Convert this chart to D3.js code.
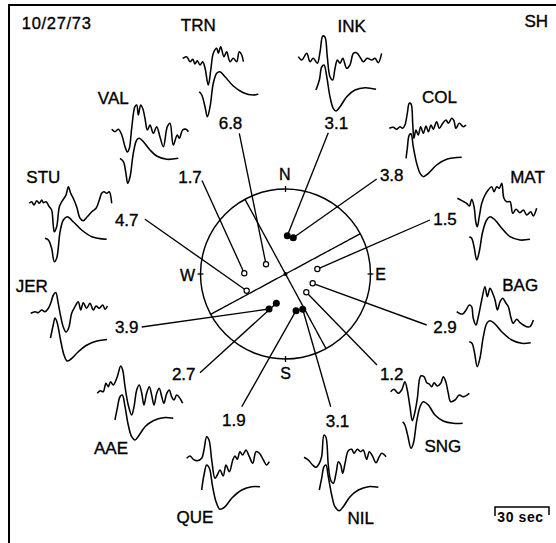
<!DOCTYPE html>
<html><head><meta charset="utf-8">
<script src="https://cdn.jsdelivr.net/npm/d3@7"></script>
<style>html,body{margin:0;padding:0;background:#fff;}svg{display:block;}</style>
</head><body>
<svg id="chart" width="556" height="543"></svg>
<script>
// ---------------- DATA ----------------
const stationNames = ["TRN","INK","COL","MAT","BAG","SNG","NIL","QUE","AAE","JER","STU","VAL"];
const ratioLabels  = ["6.8","3.1","3.8","1.5","2.9","1.2","3.1","1.9","2.7","3.9","4.7","1.7"];
const polarity     = ["open","filled","filled","open","open","open","filled","filled","filled","filled","open","open"];
// first-motion points on the focal sphere: azimuth (deg) and projected radius (fraction of sphere)
const pointAzimuth = [296.4, 2.7, 12.1, 81.1, 108.9, 131.3, 154, 164, 197.4, 205.2, 246.7, 271];
const pointRadius  = [0.256, 0.451, 0.437, 0.379, 0.338, 0.326, 0.462, 0.449, 0.361, 0.455, 0.497, 0.485];
// nodal planes
const nodalStrike = [331.5, 61.7];
const nodalDip    = [90, 90];
const cardinals = ["N","E","S","W"];
const cardinalAz = [0, 90, 180, 270];
const dateLabel = "10/27/73";
const phaseLabel = "SH";
const scaleSeconds = 30;
const scaleLabel = "30 sec";

// waveforms: [time (s), amplitude]; obs = observed, syn = synthetic
const obsTRN = [[0,1.7],[2.2,3.3],[4.1,-1.7],[5.6,0.7],[6.8,-4],[8.1,-0.7],[9.6,-5],[11.1,-1.7],[12.4,-8],[14.2,-25],[15.6,-10],[17,6.7],[18.9,11.7],[19.8,6.7],[21.1,13.3],[22.9,3.3],[24.4,8.3],[26.3,-1.7],[28.1,1.7],[30,-1.7],[31.4,8.3],[32.8,5],[33.7,-1.7]];
const synTRN = [[9.2,0.3],[10.6,-3],[12.4,-14.7],[13.7,-24.7],[15.2,-14.7],[17,8.7],[18.9,18.7],[20.7,20.3],[23.5,15.3],[28.1,6],[33.7,-0.7],[39.2,-3],[42,-2]];
const obsINK = [[0,0.3],[1.9,-3],[4.7,3.7],[6.5,-4.7],[8.3,-1.3],[10.6,-6.3],[12.1,5.3],[13.6,21],[14.8,20],[16.1,0.3],[17.6,-19.7],[19.1,-23],[20.4,-11.3],[21.7,-3],[23.2,-6.3],[24.7,-1.3],[26.9,-11.3],[28.7,-8],[30.6,3.7],[32.4,4.3],[34.7,-1.3],[36.1,-4.7],[38.3,-1.3],[40.8,-3],[42.6,-1.3],[44.4,-5.7],[46.3,3.7]];
const synINK = [[9.8,0],[11.7,10],[13,23],[14.3,25],[15.8,13.3],[17.6,-6.7],[19.4,-18.3],[20.9,-21],[23.2,-16.7],[26.9,-6.7],[31.5,0],[37.1,2.3],[43.2,0.7]];
const obsCOL = [[0,-0.3],[2.2,0.7],[4.1,-1.3],[5.9,1.3],[7.4,-0.3],[8.7,3],[10,14.7],[11.1,24.7],[12.1,24],[13,4.7],[13.7,-10.3],[14.8,-2],[16.1,-7],[17.4,1.3],[18.9,-5.3],[20.4,2],[21.7,-3.7],[23.2,3],[24.4,-1.3],[26.3,6.3],[27.8,-0.3],[29.7,4.7],[31.5,8],[32.8,4.7],[34.7,9.7],[35.9,7.3],[37,-0.3],[38.9,4.7],[41.1,1.3],[42.6,3]];
const synCOL = [[9.3,0.2],[10,10.2],[11.1,23.5],[12.1,24.5],[13.3,11.8],[15.2,-4.8],[17.1,-14.8],[18.9,-18.2],[21.7,-14.8],[26.3,-6.5],[31.9,-0.8],[40.2,1.2]];
const obsMAT = [[0,0.7],[1.9,-1],[3.7,-2.7],[5.2,-4.3],[6.7,-7],[8,-0.3],[9.3,-7.7],[10.4,-24.3],[11.1,-27.7],[12.2,-17.7],[13.6,-4.3],[15.4,4],[17.2,9],[19.1,12.3],[20.4,7.3],[21.9,12.3],[23.3,10.7],[24.7,15.7],[25.9,0.7],[27.4,-2.7],[29.3,-2.7],[30.8,-14.3],[32.6,-10.3],[34.8,-13.7],[36.7,-11],[38.6,-16],[40.8,-12.7],[42.2,-17],[44.1,-9.3]];
const synMAT = [[6.7,0.3],[8,-1.3],[9.3,-9.7],[10.8,-23],[12.2,-14.7],[14.1,5.3],[16.3,17],[18.2,20.3],[21,17],[24.7,8.7],[29.3,0.3],[34.8,-3],[40.4,-2.3]];
const obsBAG = [[0,0.3],[1.4,-1.3],[3.3,-2],[5.2,2],[7,7],[8.3,5.3],[9.2,-6.3],[10.7,-13],[12,-4.7],[13.9,12],[15.7,25.3],[17,15.3],[18.5,23.7],[20,18.7],[21.3,12],[22.6,2],[24.1,10.3],[25.6,13.7],[27.4,8.7],[28.7,5.3],[30,-4.7],[31.4,-11.3],[33.3,-7.3],[35.2,-10.7],[37,-13],[38.9,-14.7],[40.7,-14.7],[42.6,-8]];
const synBAG = [[7,0.3],[8.5,-1.3],[9.8,-9.7],[11.4,-24.7],[12.9,-16.3],[14.8,5.3],[16.7,18.7],[18.5,21.3],[21.3,18],[25,10.3],[30.6,2],[36.1,-1.3],[41.1,-0.7]];
const obsSNG = [[0,-0.7],[1.8,1.7],[4.2,-2.3],[6.1,1],[7.9,9.3],[9.2,1],[10.7,-15.7],[12,-29.7],[13.5,-20.7],[14.8,-7.3],[16.7,15],[18.5,14.3],[20,8.3],[21.4,7],[22.8,4.3],[24.1,8.3],[25.9,5],[27.8,7.7],[29.2,14.3],[30.6,9.3],[32,-2.3],[33.3,-10.7],[35.7,-9],[38.1,-4],[40.3,-5.7],[43.7,-2.3]];
const synSNG = [[6.7,0.3],[7.9,-3],[9.4,-13],[11.3,-26.3],[12.6,-21.3],[14.4,0.3],[16.3,15.3],[18.1,20.3],[20.9,17],[24.6,7],[29.2,1],[34.8,-1.3],[40,-1.3]];
const obsNIL = [[0,-0.3],[2.4,-3],[4.8,-8],[6.7,-10.3],[8.5,-6.3],[9.8,0.3],[11.1,22],[12.2,19.7],[13.5,-8],[14.8,-23],[16.3,-26.3],[17.8,-16.3],[19.1,-4.7],[20.4,-8],[21.5,-16.3],[22.8,-6.3],[24.6,6.3],[26.5,7.7],[27.8,3.7],[29.6,7.7],[31.5,5.3],[32.9,7],[34.8,-2.3],[36.3,5.3],[38.2,0.3],[40,-5.7],[41.8,0.3],[43.2,3.7],[45.6,0.3]];
const synNIL = [[8.5,0],[9.8,11.7],[11.1,23.3],[12.2,25],[13.5,13.3],[15.4,-5],[17.2,-16.7],[19.6,-20.7],[21.8,-16.7],[25.6,-6.7],[30.2,0],[35.7,3.3],[41.3,2.7]];
const obsQUE = [[0,-0.3],[1.8,2],[3.7,-1.3],[5.9,-2.7],[8.3,-0.3],[9.6,8],[11.1,21.3],[12.4,18],[13.9,-2],[15.7,-20.3],[17,-17],[18.5,-12],[20.3,-18],[21.8,-7],[23.7,-13.7],[25.6,-2],[26.8,2],[28.1,-1.3],[29.6,6.3],[31.1,3],[32.9,8],[34.8,1.3],[36.7,-5.3],[38.5,6.3],[40.4,4.7],[42.6,-2],[44.4,-7],[45.9,-3.7]];
const synQUE = [[8.3,-1],[9.6,14],[11.1,24],[12.6,20.7],[14.4,2.3],[16.3,-12.7],[18.5,-20.3],[21.3,-17.7],[25,-9.3],[30.6,-1],[36.1,2.3],[40.7,2.3]];
const obsAAE = [[0,-1.3],[1.5,1.3],[3.3,0.3],[4.8,8.7],[6.1,5.3],[7.4,10.3],[8.9,7],[11.1,15.3],[13,26],[14.1,22],[15.4,5.3],[17.2,-13],[19.1,-23],[20.4,-14.7],[21.9,2],[23.3,7],[24.7,-1.3],[25.9,-13],[27.4,-1.3],[28.9,5.3],[30.2,-3],[31.5,-13],[33,-1.3],[34.4,3.7],[35.8,-4.7],[37,-11.3],[38.6,-1.3],[40,2],[41.3,-4.7],[42.6,-8],[44.1,-3],[45.9,-6.3],[47.4,-11.3]];
const synAAE = [[9.8,0],[11.1,11.7],[12.6,23.3],[13.9,25],[15.4,13.3],[17.2,-5],[19.1,-16.7],[20.9,-20],[23.3,-15],[26.5,-6.7],[31.1,-0.7],[36.7,2.3],[42.2,1.7]];
const obsJER = [[0,-1.3],[2.4,0.3],[4.2,-0.7],[6.1,2],[7.9,0.3],[9.8,3.7],[11.1,8.7],[12.6,17],[13.9,19.5],[15.3,8.7],[16.7,-4.7],[18.1,-15],[19.6,-20],[21.1,-16],[22.8,-1],[24.6,5.3],[26.4,10.3],[27.8,2],[29.2,9.3],[31.1,3.7],[32.9,8.7],[34.8,2],[36.3,6],[38.1,3.7],[40,7],[41.3,2.7],[42.6,6]];
const synJER = [[11,2],[12.4,14],[13.5,22],[14.6,18],[16.8,-2],[18.5,-15],[20.2,-21],[22.4,-19],[26.3,-12],[31.3,-5],[36.8,-1],[42.4,0.5]];
const obsSTU = [[0,-0.3],[1.3,1.3],[2.6,-2],[4.1,2.3],[5.6,-0.3],[6.9,3],[7.8,0.3],[9.3,1.3],[11.1,-3.7],[12.4,-7],[13.3,-22],[13.9,-28.7],[15.2,-23.7],[16.7,-3.7],[18,1.3],[19.3,4.7],[20.4,8],[21.7,16.3],[23,9.7],[24.4,4.7],[26.3,-3.7],[28.2,-15.3],[30,-17.7],[32.2,-13.7],[34.7,-8.7],[37.1,-5.3],[38.9,3],[40.2,9.7],[41.5,11.3],[43,9.7],[44.4,11.3],[45.8,-0.3]];
const synSTU = [[8.7,0.2],[10.6,-1.5],[12.4,-9.8],[13.9,-23.2],[15.2,-19.8],[17.1,6.8],[18.9,18.5],[21.1,21.8],[24.4,16.8],[29.1,8.5],[34.7,1.8],[43,-0.8]];
const obsVAL = [[0,0.2],[1.8,-2.2],[3.7,0.2],[5.6,-5.5],[7.4,-17.2],[8.7,-22.5],[9.8,-18.8],[11.1,1.2],[12.9,22.8],[13.9,24.5],[14.8,14.5],[16.1,24.5],[17.2,21.2],[18.5,11.2],[19.8,-0.5],[21.3,4.5],[23.1,-3.8],[25,2.8],[26.8,-7.2],[28.7,-17.2],[30.9,2.8],[32.4,6.2],[34.2,-15.5],[36.4,-5.5],[37.6,-8.8],[39.4,-0.5],[41.3,0.2],[42.6,-2.2]];
const synVAL = [[4.6,0],[6.5,-3.4],[7.9,-15],[8.9,-25],[10.2,-18.4],[12,5],[13.9,18.3],[15.3,20],[17.6,16.6],[21.3,8.3],[25,2.3],[30.6,-1],[37,0]];

const observed  = {TRN:obsTRN,INK:obsINK,COL:obsCOL,MAT:obsMAT,BAG:obsBAG,SNG:obsSNG,NIL:obsNIL,QUE:obsQUE,AAE:obsAAE,JER:obsJER,STU:obsSTU,VAL:obsVAL};
const synthetic = {TRN:synTRN,INK:synINK,COL:synCOL,MAT:synMAT,BAG:synBAG,SNG:synSNG,NIL:synNIL,QUE:synQUE,AAE:synAAE,JER:synJER,STU:synSTU,VAL:synVAL};

// ---------------- LAYOUT ----------------
// trace origin [x, y of observed baseline, gap to synthetic baseline]
const traceOrigin = {TRN:[182.7,60,32],INK:[298.3,57,33],COL:[389.3,128,30.5],MAT:[457.3,199,38],BAG:[456.7,312,30],SNG:[390.7,391,31],
  NIL:[304,457,33],QUE:[186.7,458,31],AAE:[97.3,392,28],JER:[30.7,312,28],STU:[29.3,203,35.5],VAL:[111.7,129.5,28.8]};
const nameCenter = {TRN:[198.3,25],INK:[351.7,25.5],COL:[439.5,97],MAT:[527.5,176.5],BAG:[520.2,284.7],SNG:[442.8,446.3],
  NIL:[360.8,517.8],QUE:[195,516.7],AAE:[111,447.5],JER:[31.7,285.5],STU:[43.3,176.7],VAL:[113.3,97.5]};
const ratioCenter = [[230.5,123.3],[336.3,122.5],[391.7,175],[445,219],[445,327],[391.7,374],[337.5,420.7],[233.8,420],[183.7,374],[126.7,327],[126.7,220],[190,176.7]];
const leaderAttach = [[8.8,10],[-8,10.2],[-15,4],[-15,1],[-18.3,-2],[-14.7,-9],[-6.8,-14],[8,-13.3],[16.3,-1.3],[15,0],[18.3,-0.7],[12,3.8]];
const cardinalCenter = {N:[284.7,173.8],E:[380.5,274.5],S:[285.5,373.5],W:[187.5,275]};
const sphere = {cx:285.5, cy:274, r:85};

// ---------------- DRAW ----------------
const svg = d3.select("#chart");
const FONT = "'Liberation Sans', Arial, Helvetica, sans-serif";
const ink = "#000";

// frame (top and left edges only, as scanned)
svg.append("line").attr("x1",8).attr("x2",556).attr("y1",5).attr("y2",5).attr("stroke",ink).attr("stroke-width",2);
svg.append("line").attr("x1",9).attr("x2",9).attr("y1",5).attr("y2",543).attr("stroke",ink).attr("stroke-width",2);

function capText(sel, x, y, txt, size, opts={}) {
  return sel.append("text").attr("x",x).attr("y",y + size*0.358)
    .attr("text-anchor","middle").attr("font-family",FONT).attr("font-size",size)
    .attr("font-weight",opts.bold?"bold":"normal")
    .attr("letter-spacing",opts.ls||0).attr("fill",ink)
    .attr("stroke",ink).attr("stroke-width",opts.sw==null?0.35:opts.sw)
    .text(txt);
}

capText(svg, 56.7, 23, dateLabel, 16.5, {ls:0.7});
capText(svg, 536.3, 20.8, phaseLabel, 17);

// time / amplitude scales for waveforms
const tScale = d3.scaleLinear().domain([0, 30]).range([0, 54]);
const aScale = d3.scaleLinear().domain([-1, 1]).range([1, -1]);
const wave = d3.line().x(d => tScale(d[0])).y(d => aScale(d[1])).curve(d3.curveCatmullRom.alpha(0.5));

stationNames.forEach(name => {
  const [x0, y0, gap] = traceOrigin[name];
  const g = svg.append("g").attr("transform", `translate(${x0},${y0})`);
  g.append("path").attr("d", wave(observed[name])).attr("fill","none").attr("stroke",ink).attr("stroke-width",1.55).attr("stroke-linejoin","round");
  g.append("path").attr("d", wave(synthetic[name])).attr("transform",`translate(0,${gap})`).attr("fill","none").attr("stroke",ink).attr("stroke-width",1.55).attr("stroke-linejoin","round");
  const [lx, ly] = nameCenter[name];
  capText(svg, lx, ly, name, 17);
});

// focal sphere projection
const rScale = d3.scaleLinear().domain([0, 1]).range([0, sphere.r]);
function project(az, f) {
  const a = az * Math.PI / 180;
  return [sphere.cx + rScale(f) * Math.sin(a), sphere.cy - rScale(f) * Math.cos(a)];
}
const pts = pointAzimuth.map((az, i) => project(az, pointRadius[i]));

// leader lines
pts.forEach((p, i) => {
  const [lx, ly] = ratioCenter[i];
  const [ax, ay] = leaderAttach[i];
  svg.append("line").attr("x1", lx + ax).attr("y1", ly + ay).attr("x2", p[0]).attr("y2", p[1])
    .attr("stroke", ink).attr("stroke-width", 1.35);
  capText(svg, lx, ly, ratioLabels[i], 17);
});

// sphere outline
svg.append("circle").attr("cx",sphere.cx).attr("cy",sphere.cy).attr("r",sphere.r)
  .attr("fill","none").attr("stroke",ink).attr("stroke-width",1.45);

// cardinal ticks and labels
cardinalAz.forEach((az, i) => {
  const a = project(az, 0.965), b = project(az, 1.035);
  svg.append("line").attr("x1",a[0]).attr("y1",a[1]).attr("x2",b[0]).attr("y2",b[1]).attr("stroke",ink).attr("stroke-width",1.3);
  const c = cardinalCenter[cardinals[i]];
  capText(svg, c[0], c[1], cardinals[i], 16);
});

// nodal planes (lower hemisphere, equal-area)
const rad = Math.PI / 180;
nodalStrike.forEach((s, k) => {
  const d = nodalDip[k];
  const sv = [Math.cos(s*rad), Math.sin(s*rad), 0];
  const dv = [Math.cos(d*rad)*Math.cos((s+90)*rad), Math.cos(d*rad)*Math.sin((s+90)*rad), Math.sin(d*rad)];
  const arc = d3.range(0, 181, 2).map(l => {
    const v = [0,1,2].map(j => Math.cos(l*rad)*sv[j] + Math.sin(l*rad)*dv[j]);
    const inc = Math.acos(Math.min(1, Math.abs(v[2])));
    const az = Math.atan2(v[1], v[0]) / rad;
    return project(az, Math.SQRT2 * Math.sin(inc / 2));
  });
  svg.append("path").attr("d", d3.line()(arc)).attr("fill","none").attr("stroke",ink).attr("stroke-width",1.35);
});
svg.append("circle").attr("cx",sphere.cx).attr("cy",sphere.cy).attr("r",2).attr("fill",ink);

// observation points
pts.forEach((p, i) => {
  if (polarity[i] === "filled") {
    svg.append("circle").attr("cx",p[0]).attr("cy",p[1]).attr("r",3.5).attr("fill",ink);
  } else {
    svg.append("circle").attr("cx",p[0]).attr("cy",p[1]).attr("r",2.6).attr("fill","#fff").attr("stroke",ink).attr("stroke-width",1.2);
  }
});

// time scale bar
const sbx = 495, sby = 507;
svg.append("path").attr("d", `M${sbx},${sby+9}V${sby}H${sbx + tScale(scaleSeconds)}V${sby+8}`)
  .attr("fill","none").attr("stroke",ink).attr("stroke-width",1.5);
capText(svg, 520.5, 516.5, scaleLabel, 14, {bold:true, ls:0.6, sw:0});
</script>
</body></html>
